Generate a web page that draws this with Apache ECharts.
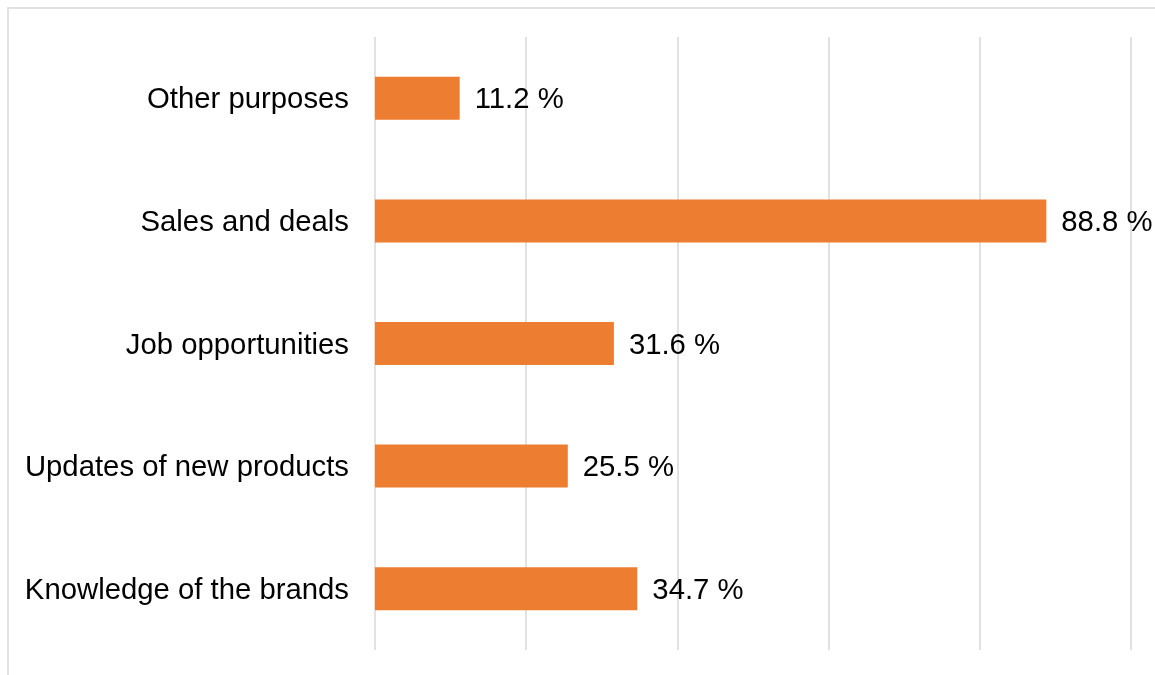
<!DOCTYPE html>
<html>
<head>
<meta charset="utf-8">
<style>
  html, body { margin: 0; padding: 0; background: #ffffff; }
  #chart { width: 1155px; height: 675px; }
</style>
<script src="https://cdn.jsdelivr.net/npm/echarts@6/dist/echarts.min.js"></script>
</head>
<body>
<div id="chart"></div>
<script>
// Categories listed bottom to top (category y-axis starts at the bottom)
const categories = [
  'Knowledge of the brands',
  'Updates of new products',
  'Job opportunities',
  'Sales and deals',
  'Other purposes'
];
const shares = [34.7, 25.5, 31.6, 88.8, 11.2];

const FONT = '"Liberation Sans", Arial, sans-serif';
const chart = echarts.init(document.getElementById('chart'), null, { renderer: 'canvas' });

chart.setOption({
  backgroundColor: '#ffffff',
  animation: false,
  textStyle: { fontFamily: FONT },
  graphic: [{
    // light frame around the chart area
    type: 'rect',
    shape: { x: 8, y: 8, width: 1200, height: 700 },
    style: { fill: null, stroke: '#d9d9d9', lineWidth: 1.5 },
    silent: true
  }],
  grid: { left: 375, right: 24, top: 37, bottom: 25, containLabel: false },
  xAxis: {
    type: 'value',
    min: 0,
    max: 100,
    interval: 20,
    axisLabel: { show: false },
    axisLine: { show: false },
    axisTick: { show: false },
    splitLine: { show: true, lineStyle: { color: '#d9d9d9', width: 1.5 } }
  },
  yAxis: {
    type: 'category',
    data: categories,
    axisLine: { show: false },
    axisTick: { show: false },
    axisLabel: {
      margin: 26,
      formatter: v => '{c|' + v + '}',
      rich: {
        c: {
          color: '#000000',
          fontSize: 29.3,
          fontFamily: FONT,
          padding: [4, 0, 0, 0]
        }
      }
    }
  },
  series: [{
    type: 'bar',
    data: shares,
    barWidth: 43,
    itemStyle: { color: '#ED7D31' },
    label: {
      show: true,
      position: 'right',
      distance: 15,
      offset: [0, 2],
      color: '#000000',
      fontSize: 29.3,
      fontFamily: FONT,
      formatter: p => p.value.toFixed(1) + ' %'
    }
  }]
});
</script>
</body>
</html>
